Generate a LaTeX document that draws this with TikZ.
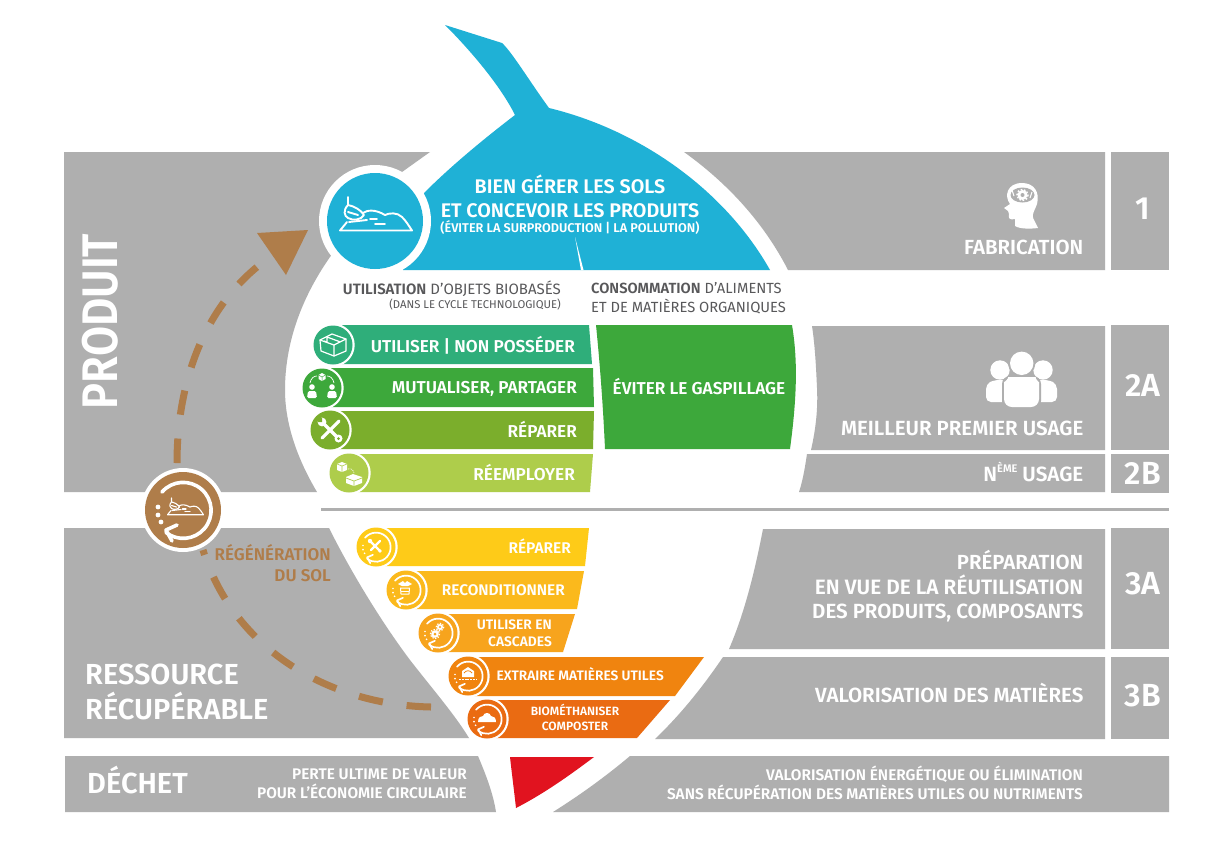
\documentclass[tikz,border=0pt]{standalone}
\usepackage{fontspec}
\usepackage{graphicx}
\setmainfont{Fira Sans}[BoldFont={Fira Sans SemiBold}]
\definecolor{pgray}{HTML}{AFAFAF}
\definecolor{pblue}{HTML}{1FB1D6}
\definecolor{pbrown}{HTML}{AF7D4A}
\definecolor{ptext}{HTML}{58585A}
\definecolor{gA}{HTML}{2FAE7A}
\definecolor{gB}{HTML}{3DA83B}
\definecolor{gC}{HTML}{7BAE2C}
\definecolor{gD}{HTML}{AECD4B}
\definecolor{oA}{HTML}{FECB18}
\definecolor{oB}{HTML}{FBB91C}
\definecolor{oC}{HTML}{F7A41D}
\definecolor{oD}{HTML}{F0840F}
\definecolor{oE}{HTML}{EA6B12}
\definecolor{pred}{HTML}{E1131F}
\tikzset{
  lab/.style={inner sep=0pt,text=white,font=\bfseries\fontsize{#1}{#1}\selectfont},
  rlab/.style={lab=#1,anchor=base east},
  llab/.style={lab=#1,anchor=base west},
  clab/.style={lab=#1,anchor=base},
  panel/.style={fill=pgray,draw=none},
  icon/.style={draw=white,line width=1.2pt,line cap=round,line join=round},
  soildash/.style={draw=pbrown,line width=7pt,dash pattern=on 24.5pt off 24pt},
}
\newcommand{\disc}[4]{\fill[white] (#1,#2) circle (#3+2.2); \fill[#4] (#1,#2) circle (#3);}
% #1 = line width
\newcommand{\soilicon}[1]{%
  \begin{scope}[every path/.append style={draw=white,line width=#1,line cap=round,line join=round}]
  \draw (-28,1) -- (-35,9.5) -- (37,9.5) .. controls (34,5) and (31,0) .. (27,-4) .. controls (22,-9) and (14,-8) .. (10,-6) .. controls (0,-12) and (-8,-11) .. (-12,-8);
  \draw (-27,-24) -- (-27,-16) .. controls (-32,-11) and (-31,-5) .. (-27,-3) .. controls (-22,0) and (-14,-1) .. (-11,-6) .. controls (-14,-11) and (-21,-15) .. (-27,-16);
  \draw (-27,-9) -- (-17,-6);
  \draw (-26,1) -- (-8,-1);
  \draw (-5,-2) -- (2,-2);
  \draw (0,3) -- (10,3);
  \end{scope}
}
\newcommand{\loopring}[2]{%
  \draw[draw=white,line width=#1,line cap=round] (-21,-18) arc[start angle=-139,end angle=128,radius=28];
  \draw[draw=white,line width=#1,line cap=round,line join=round] (-6,15) -- (-17,20) -- (-11,31);
  \fill[white] (-25,-3) circle (#2) (-25,5) circle (#2) (-22,12) circle (#2);
}
\begin{document}
\begin{tikzpicture}[x=1pt,y=-1pt]
\useasboundingbox (0,0) rectangle (1230,844);
\fill[white] (0,0) rectangle (1230,844);
% ---- grey panels
\fill[panel] (64,152) -- (430,152) -- (402,172) -- (330,257) .. controls (300,300) and (285,345) .. (285,390) .. controls (285,425) and (298,460) .. (317,492) -- (64,492) -- cycle;
\fill[panel] (684,152) -- (1105,152) -- (1105,270) -- (788,270) .. controls (765,225) and (730,185) .. (684,152) -- cycle;
\fill[panel] (812,326) -- (1105,326) -- (1105,450) -- (811,450) .. controls (816,428) and (818,408) .. (817,388) .. controls (816,366) and (815,346) .. (812,326) -- cycle;
\fill[panel] (807,454) -- (1105,454) -- (1105,492) -- (799,492) .. controls (803,480) and (805,467) .. (807,454) -- cycle;
\fill[panel] (64,528) -- (329,528) .. controls (350,570) and (380,620) .. (410,660) .. controls (435,692) and (455,715) .. (469,738) -- (64,738) -- cycle;
\fill[panel] (763,529) -- (1105,529) -- (1105,649) -- (729,649) .. controls (745,612) and (755,570) .. (763,529) -- cycle;
\fill[panel] (723,657) -- (1105,657) -- (1105,739) -- (655,739) .. controls (680,715) and (702,688) .. (723,657) -- cycle;
\fill[panel] (65,756) -- (478,756) .. controls (486,775) and (493,793) .. (496,812) -- (65,812) -- cycle;
\fill[panel] (630,756) -- (1169,756) -- (1169,812) -- (553,812) .. controls (580,795) and (605,777) .. (630,756) -- cycle;
\foreach \a/\b in {152/270,325/450,454/493,528/649,657/739}
  \fill[panel] (1111,\a) rectangle (1169,\b);
\fill[pgray] (321,508) rectangle (1169,511);
% ---- blue shape
\fill[pblue] (445,25) -- (502,43) .. controls (512,52) and (530,82) .. (549,108) .. controls (640,130) and (725,190) .. (770,270) -- (403,270) -- (424,193) .. controls (452,165) and (485,138) .. (515,115) .. controls (500,85) and (470,50) .. (445,25) -- cycle;
\fill[white] (575,237) -- (581,270) -- (583.5,270) -- cycle;
\fill[white] (375,221) circle (56);
\fill[pblue] (375,221) circle (48);
\begin{scope}[shift={(375,221)}]\soilicon{1.9pt}\end{scope}
% ---- brown path
\draw[soildash] (177,463) .. controls (177,380) and (205,310) .. (257,267);
\fill[pbrown] (257,233) -- (308,230) -- (286,275) -- cycle;
\draw[soildash] (431,707) .. controls (330,705) and (234,650) .. (203,550);
\fill[white] (183,510) circle (42);
\fill[pbrown] (183,510) circle (38);
\begin{scope}[shift={(183,510)}]\loopring{3.6pt}{2.4}\end{scope}
\begin{scope}[shift={(185,510)},scale=.5]\soilicon{1.1pt}\end{scope}
% ---- green bars
\fill[gA] (335,325) -- (589,325) -- (592,364) -- (335,364) -- cycle;
\fill[gB] (325,368) -- (593,368) -- (594,407) -- (325,407) -- cycle;
\fill[gC] (335,411) -- (594,411) -- (593,449) -- (335,449) -- cycle;
\fill[gD] (355,454) -- (593,454) -- (590,492) -- (355,492) -- cycle;
\disc{333}{345}{19.5}{gA}
\disc{322}{388}{19.5}{gB}
\disc{330}{430}{19.5}{gC}
\disc{349}{473}{19.5}{gD}
\fill[gB] (596,325) -- (792,325) .. controls (797,355) and (798,390) .. (790,449) -- (605,449) .. controls (603,405) and (600,365) .. (596,325) -- cycle;
% box icon
\begin{scope}[shift={(333,345)}]
\draw[icon] (-1,-11) -- (13,-6) -- (13,6) -- (1,11) -- (-12,6) -- (-13,-5) -- cycle;
\draw[icon] (-13,-5) -- (1,0) -- (13,-6) (1,0) -- (1,11) (-6,-8) -- (7,-3.2) (-6,-8) -- (-6,-3) -- (-9,-4);
\end{scope}
% sharing icon
\begin{scope}[shift={(322,388)}]
\fill[white] (-10,-1) circle (2.8) (10,-1) circle (2.8);
\fill[white,rounded corners=1.5pt] (-15,10) -- (-14,3) -- (-6,3) -- (-5,10) -- cycle;
\fill[white,rounded corners=1.5pt] (5,10) -- (6,3) -- (14,3) -- (15,10) -- cycle;
\draw[draw=white,line width=.7pt] (-12,-5) .. controls (-11,-10) and (-8,-12) .. (-5,-12) (5,-12) .. controls (8,-12) and (11,-10) .. (12,-5);
\fill[white] (-3.5,-13) -- (0,-15) -- (3.5,-13) -- (3.5,-9) -- (0,-7) -- (-3.5,-9) -- cycle;
\draw[draw=gB,line width=.5pt] (-3.5,-13) -- (0,-11) -- (3.5,-13) (0,-11) -- (0,-7);
\end{scope}
% tools icon
\begin{scope}[shift={(330,430)}]
\draw[draw=white,line width=3.2pt,line cap=round] (-7,-7) -- (8,8);
\draw[draw=white,line width=3.2pt,line cap=round] (9,-9) -- (-8,8);
\fill[white] (-8,-8) circle (4.4);
\fill[white] (8.5,8.5) circle (4);
\fill[gC] (8.5,8.5) circle (1.5);
\fill[gC] (-13,-13) -- (-8,-12) -- (-8,-8) -- (-12,-8) -- cycle;
\end{scope}
% re-use icon
\begin{scope}[shift={(349,473)}]
\fill[white] (-7,-11) -- (-2,-9) -- (-2,-3) -- (-7,-1) -- (-12,-3) -- (-12,-9) -- cycle;
\draw[draw=gD,line width=.6pt] (-12,-9) -- (-7,-7) -- (-2,-9) (-7,-7) -- (-7,-1);
\draw[draw=white,line width=.6pt,dash pattern=on 1.5pt off 1pt] (-1,-4) .. controls (3,-5) and (4,-3) .. (5,0);
\fill[white] (-3,4) -- (4,1) -- (13,4) -- (13,10) -- (5,13) -- (-3,10) -- cycle;
\draw[draw=gD,line width=.7pt] (-3,5) -- (5,8) -- (13,5) (5,8) -- (5,13);
\end{scope}
% ---- orange bars
\fill[oA] (376,528) -- (589,528) -- (585,566) -- (376,566) -- cycle;
\fill[oB] (406,571) -- (584,571) -- (577,609) -- (406,609) -- cycle;
\fill[oC] (438,614) -- (575,614) -- (563,652) -- (438,652) -- cycle;
\fill[oD] (468,657) -- (704,657) -- (675,696) -- (468,696) -- cycle;
\fill[oE] (487,700) -- (670,700) -- (637,738) -- (487,738) -- cycle;
\disc{376}{547}{19.5}{oA}
\disc{406}{590}{19.5}{oB}
\disc{438}{633}{19.5}{oC}
\disc{468}{676}{19.5}{oD}
\disc{487}{719}{19.5}{oE}
\foreach \x/\y in {376/547,406/590,438/633,468/676,487/719}
  {\begin{scope}[shift={(\x,\y)},scale=.52]\loopring{1.7pt}{1.8}\end{scope}}
\begin{scope}[shift={(375,546)}]
\draw[draw=white,line width=2.4pt,line cap=round] (-4,-4) -- (5,5) (5,-5) -- (-4,4);
\fill[white] (-5,-5) circle (2.2) (5,5) circle (1.9);
\end{scope}
\begin{scope}[shift={(405,589)}]
\fill[white] (-7,-5) -- (-2,-8) -- (0,-6) -- (2,-8) -- (7,-5) -- (3,-3) -- (-3,-3) -- cycle;
\draw[icon,line width=1pt] (-4.5,-1) -- (4.5,-1) -- (4,5) -- (-4,5) -- cycle;
\draw[icon,line width=.7pt] (-4,2) -- (4,2);
\end{scope}
\begin{scope}[shift={(438,633)}]
\fill[white] (-3,1) circle (3.8) (2,-6) circle (3);
\draw[draw=white,line width=1.2pt,dash pattern=on 1.4pt off 1.4pt] (-3,1) circle (4.6) (2,-6) circle (3.7);
\fill[oC] (-3,1) circle (1.5) (2,-6) circle (1.2);
\end{scope}
\begin{scope}[shift={(468,676)}]
\fill[white] (-6,1) -- (-6,-5) -- (0,-9) -- (6,-5) -- (6,1) -- cycle;
\draw[draw=oD,line width=.8pt] (-4,-3) .. controls (-2,-6) and (2,-6) .. (4,-3);
\draw[draw=white,line width=1pt,dash pattern=on 2pt off .8pt] (-9,3) -- (9,3);
\end{scope}
\begin{scope}[shift={(487,719)}]
\fill[white] (-9,3) .. controls (-9,-2) and (-6,-3) .. (-4,-3) .. controls (-3,-7) and (3,-7) .. (4,-3) .. controls (7,-3) and (9,-1) .. (9,3) -- cycle;
\end{scope}
% ---- red
\fill[pred] (510,757) -- (594,757) .. controls (570,775) and (545,793) .. (516,808) .. controls (514,790) and (512,775) .. (510,757) -- cycle;
% ---- head icon
\fill[white] (1010,204) .. controls (1004,196) and (1007,183) .. (1022,183) .. controls (1034,183) and (1040,192) .. (1037,204) .. controls (1035,210) and (1032,213) .. (1033,218) -- (1038,228) .. controls (1030,229) and (1020,229) .. (1015,226) -- (1015,219) .. controls (1010,220) and (1008,219) .. (1009,214) -- (1008,211) -- (1004,208) -- cycle;
\fill[pgray] (1022.5,195) ellipse[x radius=12,y radius=7.5];
\draw[draw=white,line width=1pt] (1012,190) -- (1014,196) (1032,192) -- (1030,198);
\fill[white] (1022.5,195) circle (5);
\draw[draw=white,line width=1.4pt,dash pattern=on 1.7pt off 1.7pt] (1022.5,195) circle (5.6);
\fill[pgray] (1022.5,195) circle (2);
% ---- people icon
\fill[white] (1000,370) circle (9.7) (1043,370) circle (9.7);
\fill[white,rounded corners=5pt] (986,402) -- (986,384) -- (994,380) -- (1049,380) -- (1057,384) -- (1057,402) -- cycle;
\fill[pgray] (1021.7,363.3) circle (13.5);
\fill[pgray,rounded corners=8pt] (1002,409) -- (1002,376) -- (1041,376) -- (1041,409) -- cycle;
\fill[white] (1021.7,363.3) circle (11.7);
\fill[white,rounded corners=8pt] (1004,407) -- (1004,390) .. controls (1004,383) and (1010,377) .. (1016,377) -- (1028,377) .. controls (1034,377) and (1039,383) .. (1039,390) -- (1039,407) -- cycle;
% ---- texts
\node[clab=19.7] (t1) at (570,193) {BIEN GÉRER LES SOLS};
\node[clab=19.7] (t2) at (570,217.5) {ET CONCEVOIR LES PRODUITS};
\node[clab=12.7] (t3) at (570,232) {(ÉVITER LA SURPRODUCTION | LA POLLUTION)};
\node[rlab=15,text=ptext,font=\fontsize{15}{15}\selectfont] (u1) at (561,294) {\textbf{UTILISATION} D’OBJETS BIOBASÉS};
\node[rlab=11.3,text=ptext,font=\fontsize{11.3}{11}\selectfont] (u2) at (561,308) {(DANS LE CYCLE TECHNOLOGIQUE)};
\node[llab=14.7,text=ptext,font=\fontsize{14.7}{14}\selectfont] (c1) at (591,293) {\textbf{CONSOMMATION} D’ALIMENTS};
\node[llab=14.7,text=ptext,font=\fontsize{14.7}{14}\selectfont] (c2) at (591,312) {ET DE MATIÈRES ORGANIQUES};
\node[rlab=17.2] (g1) at (575,352) {UTILISER | NON POSSÉDER};
\node[rlab=17.2] (g2) at (577,393) {MUTUALISER, PARTAGER};
\node[rlab=17.2] (g3) at (577,437) {RÉPARER};
\node[rlab=17.2] (g4) at (575,480) {RÉEMPLOYER};
\node[clab=17.2] (g5) at (699,394) {ÉVITER LE GASPILLAGE};
\node[rlab=15.5] (o1) at (571,553) {RÉPARER};
\node[rlab=15.4] (o2) at (565,595) {RECONDITIONNER};
\node[rlab=13.8] (o3) at (552,629) {UTILISER EN};
\node[rlab=13.8] (o4) at (552,646) {CASCADES};
\node[rlab=13.7] (o5) at (664,680) {EXTRAIRE MATIÈRES UTILES};
\node[clab=12] (o6) at (575,715) {BIOMÉTHANISER};
\node[clab=12] (o7) at (575,730) {COMPOSTER};
\node[rlab=20.4] (r1) at (1083.5,254.7) {FABRICATION};
\node[clab=32] (n1) at (1143,219) {1};
\node[rlab=20.5] (r2) at (1083.5,435.7) {MEILLEUR PREMIER USAGE};
\node[clab=32] (n2) at (1143,396) {2A};
\node[rlab=20.6] (r3) at (1083.5,481) {N\raisebox{.42em}{\fontsize{11}{11}\selectfont ÈME} USAGE};
\node[clab=32] (n3) at (1143,484) {2B};
\node[rlab=20.4] (r4) at (1083.5,569.5) {PRÉPARATION};
\node[rlab=20.8] (r5) at (1083.5,594.5) {EN VUE DE LA RÉUTILISATION};
\node[rlab=20.5] (r6) at (1083.5,618.5) {DES PRODUITS, COMPOSANTS};
\node[clab=32] (n4) at (1143,594) {3A};
\node[rlab=20.5] (r7) at (1083.5,702.5) {VALORISATION DES MATIÈRES};
\node[clab=32] (n5) at (1143,706) {3B};
\node[lab=50,rotate=90,anchor=base] (p1) at (117,321.5) {\scalebox{.873}[1]{PRODUIT}};
\node[llab=29] (l1) at (85,684) {RESSOURCE};
\node[llab=29] (l2) at (85,719) {RÉCUPÉRABLE};
\node[llab=29] (l3) at (87,793) {DÉCHET};
\node[rlab=15.4] (d1) at (467,779) {PERTE ULTIME DE VALEUR};
\node[rlab=15.4] (d2) at (467,798) {POUR L’ÉCONOMIE CIRCULAIRE};
\node[rlab=15.4] (d3) at (1083,780) {VALORISATION ÉNERGÉTIQUE OU ÉLIMINATION};
\node[rlab=15.4] (d4) at (1083,799) {SANS RÉCUPÉRATION DES MATIÈRES UTILES OU NUTRIMENTS};
\node[rlab=17,text=pbrown] (b1) at (331,560) {RÉGÉNÉRATION};
\node[rlab=17,text=pbrown] (b2) at (331,581) {DU SOL};
\end{tikzpicture}
\end{document}
